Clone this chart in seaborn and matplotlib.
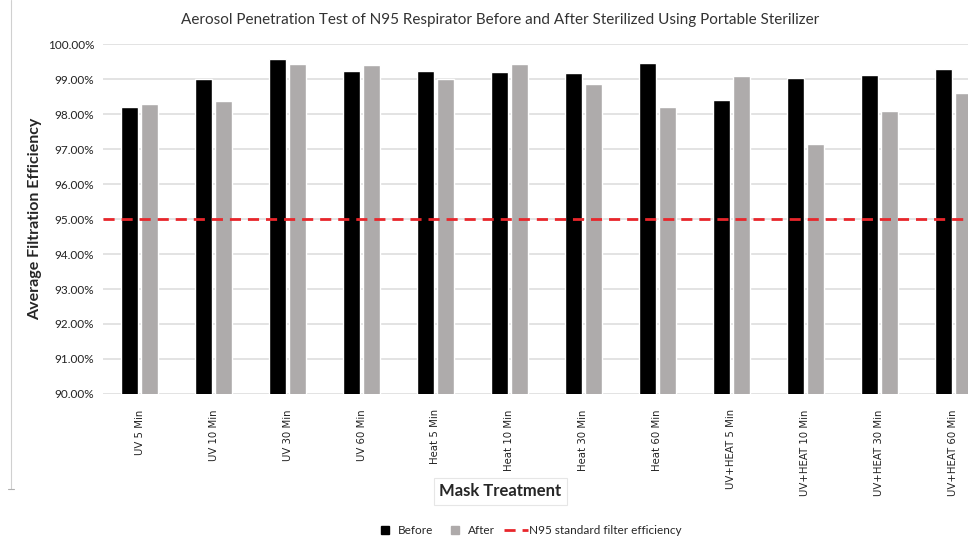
import pandas as pd
import matplotlib.pyplot as plt
import seaborn as sns
from matplotlib.lines import Line2D
from matplotlib.ticker import FuncFormatter

treatments = ['UV 5 Min', 'UV 10 Min', 'UV 30 Min', 'UV 60 Min',
              'Heat 5 Min', 'Heat 10 Min', 'Heat 30 Min', 'Heat 60 Min',
              'UV+HEAT 5 Min', 'UV+HEAT 10 Min', 'UV+HEAT 30 Min', 'UV+HEAT 60 Min']
before = [98.19, 99.00, 99.56, 99.23, 99.22, 99.19, 99.16, 99.47, 98.39, 99.02, 99.13, 99.29]
after = [98.28, 98.36, 99.44, 99.40, 98.99, 99.42, 98.85, 98.19, 99.10, 97.13, 98.08, 98.61]
n95_standard = 95.0

df = pd.DataFrame({
    'Treatment': treatments * 2,
    'Efficiency': before + after,
    'Stage': ['Before'] * len(treatments) + ['After'] * len(treatments),
})

sns.set_style('white')
plt.rcParams['font.family'] = ['Lato', 'DejaVu Sans']

fig = plt.figure(figsize=(9.68, 5.4), dpi=100)
ax = fig.add_axes([0.106, 0.2704, 0.917, 0.648])

sns.barplot(data=df, x='Treatment', y='Efficiency', hue='Stage',
            palette={'Before': '#000000', 'After': '#aeaaaa'},
            width=0.54, gap=0.15, ax=ax, legend=False, zorder=3)
ax.axhline(n95_standard, color='#e8262b', linestyle=(0, (4, 2.5)), linewidth=2, zorder=4)

ax.set_ylim(90, 100)
ax.set_yticks([90 + i for i in range(11)])
ax.yaxis.set_major_formatter(FuncFormatter(lambda v, p: f'{v:.2f}%'))
ax.grid(axis='y', color='#dedede', linewidth=1.2, zorder=0)
ax.set_axisbelow(True)
for s in ax.spines.values():
    s.set_visible(False)
ax.tick_params(axis='y', labelsize=8.5, length=0, pad=6, colors='#222222')
ax.tick_params(axis='x', length=0, pad=11)
for lbl in ax.get_xticklabels():
    lbl.set_rotation(90)
    lbl.set_fontfamily('DejaVu Sans')
    lbl.set_fontsize(7.3)
    lbl.set_color('#222222')

ax.set_xlabel('')
ax.set_ylabel('Average Filtration Efficiency', fontsize=11.5, fontweight='bold', labelpad=8)
ax.yaxis.set_label_coords(-0.068, 0.5)

fig.text(0.517, 0.963, 'Aerosol Penetration Test of N95 Respirator Before and After Sterilized Using Portable Sterilizer',
         ha='center', va='center', fontsize=11, color='#333333')
fig.text(0.517, 0.09, 'Mask Treatment', ha='center', va='center', fontsize=12, fontweight='bold',
         bbox=dict(boxstyle='square,pad=0.35', facecolor='white', edgecolor='#e6e6e6', linewidth=0.8))

# faint chart-area border on the left
fig.add_artist(Line2D([0.011, 0.011], [1.0, 0.095], color='#d0d0d0', linewidth=0.8))
fig.add_artist(Line2D([0.008, 0.014], [0.095, 0.095], color='#b0b0b0', linewidth=0.8))

handles = [
    Line2D([], [], marker='s', linestyle='none', markersize=6, color='#000000'),
    Line2D([], [], marker='s', linestyle='none', markersize=6, color='#aeaaaa'),
    Line2D([], [], color='#e8262b', linestyle=(0, (4, 2.5)), linewidth=2),
]
fig.legend(handles, ['Before', 'After', 'N95 standard filter efficiency'],
           loc='center', bbox_to_anchor=(0.545, 0.018), ncol=3, frameon=False,
           fontsize=8.5, handlelength=2.0, handletextpad=0.1, columnspacing=0.8)

fig.savefig('out.png', dpi=100)
